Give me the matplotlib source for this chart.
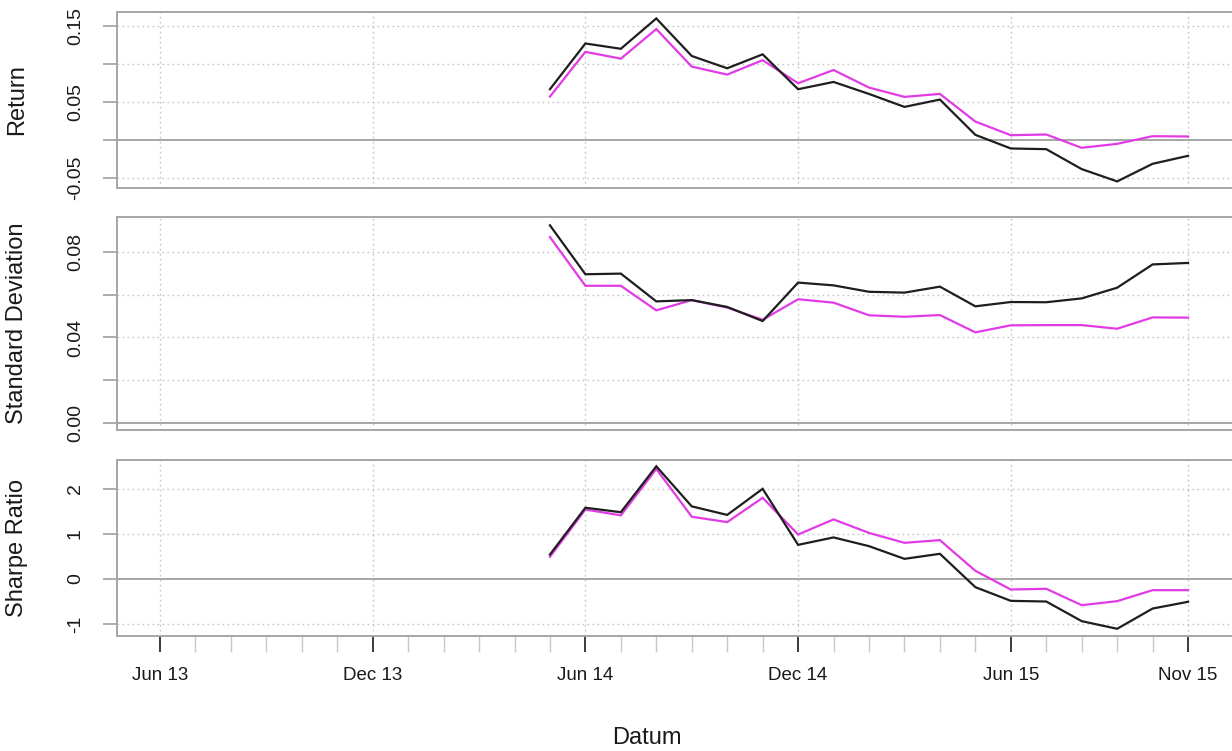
import numpy as np
import pandas as pd
import matplotlib
matplotlib.use("Agg")
import matplotlib.pyplot as plt

plt.rcParams["font.family"] = ["Liberation Sans", "DejaVu Sans"]

# Rolling 12-month window results, monthly
months = pd.period_range("2014-05", "2015-11", freq="M")
axis_start = pd.Period("2013-06", freq="M")
axis_end = pd.Period("2015-11", freq="M")

major_months = ["2013-06", "2013-12", "2014-06", "2014-12", "2015-06", "2015-11"]
major_labels = ["Jun 13", "Dec 13", "Jun 14", "Dec 14", "Jun 15", "Nov 15"]

portfolio_return = [0.0667, 0.127, 0.120, 0.160, 0.1105, 0.0943, 0.1127, 0.0667,
                    0.0763, 0.0605, 0.0434, 0.0531, 0.0066, -0.0114, -0.0123,
                    -0.0386, -0.0548, -0.0316, -0.0211]
benchmark_return = [0.057, 0.116, 0.107, 0.146, 0.0965, 0.086, 0.105, 0.0746,
                    0.092, 0.0689, 0.0566, 0.0605, 0.0241, 0.0061, 0.007,
                    -0.0105, -0.0053, 0.0048, 0.0044]

portfolio_sd = [0.0925, 0.0696, 0.0699, 0.0569, 0.0575, 0.0543, 0.0477, 0.0657,
                0.0644, 0.0614, 0.0610, 0.0638, 0.0546, 0.0566, 0.0565, 0.0583,
                0.0633, 0.0742, 0.0749]
benchmark_sd = [0.0870, 0.0642, 0.0642, 0.0527, 0.0575, 0.0540, 0.0483, 0.0579,
                0.0563, 0.0504, 0.0497, 0.0505, 0.0424, 0.0457, 0.0458, 0.0458,
                0.0441, 0.0494, 0.0493]

portfolio_sharpe = [0.54, 1.58, 1.48, 2.50, 1.61, 1.42, 2.00, 0.755, 0.92, 0.726,
                    0.444, 0.556, -0.185, -0.489, -0.504, -0.94, -1.11, -0.66, -0.51]
benchmark_sharpe = [0.49, 1.54, 1.41, 2.44, 1.38, 1.26, 1.80, 0.985, 1.32, 1.02,
                    0.80, 0.86, 0.178, -0.237, -0.222, -0.585, -0.496, -0.252, -0.252]

ylabels = ["Return", "Standard Deviation", "Sharpe Ratio"]

x = np.array([(m - axis_start).n for m in months])
n_axis = (axis_end - axis_start).n
all_minor = np.arange(0, n_axis + 1)
major_x = [(pd.Period(m, freq="M") - axis_start).n for m in major_months]

W, H = 1232, 751
fig = plt.figure(figsize=(W / 100, H / 100), dpi=100)
fig.patch.set_facecolor("white")

FRAME = "#a6a6a6"
GRID = "#c4c4c4"
BLACK = "#1e1e1e"
MAGENTA = "#e23be6"
TEXT = "#1a1a1a"

left_px, right_px = 117, 1236
month_px = 35.45
x0_px = 160
xlim = ((left_px - x0_px) / month_px, (right_px - x0_px) / month_px)

panels = [
    # (top_px, bottom_px, ylim, ticks, labelled ticks, series)
    (12, 188, (-0.0635, 0.1685), [-0.05, 0.0, 0.05, 0.10, 0.15],
     {-0.05: "-0.05", 0.05: "0.05", 0.15: "0.15"},
     (portfolio_return, benchmark_return)),
    (217, 430, (-0.0033, 0.0964), [0.0, 0.02, 0.04, 0.06, 0.08],
     {0.0: "0.00", 0.04: "0.04", 0.08: "0.08"},
     (portfolio_sd, benchmark_sd)),
    (460, 636, (-1.27, 2.64), [-1, 0, 1, 2],
     {-1: "-1", 0: "0", 1: "1", 2: "2"},
     (portfolio_sharpe, benchmark_sharpe)),
]

axes = []
for i, (top, bot, ylim, ticks, labelled, (s1, s2)) in enumerate(panels):
    ax = fig.add_axes([left_px / W, 1 - bot / H, (right_px - left_px) / W, (bot - top) / H])
    axes.append(ax)
    ax.set_xlim(*xlim)
    ax.set_ylim(*ylim)
    for sp in ax.spines.values():
        sp.set_color(FRAME)
        sp.set_linewidth(1.4)
    # grid
    for t in ticks:
        if t == 0:
            ax.axhline(0, color=FRAME, lw=1.4, zorder=1)
        else:
            ax.axhline(t, color=GRID, lw=1.0, ls=(0, (1.2, 2.4)), zorder=1)
    for mx in major_x:
        ax.axvline(mx, color=GRID, lw=1.0, ls=(0, (1.2, 2.4)), zorder=1)
    ax.plot(x, s2, color=MAGENTA, lw=1.6, zorder=3, solid_joinstyle="miter")
    ax.plot(x, s1, color=BLACK, lw=1.6, zorder=4, solid_joinstyle="miter")

    ax.set_yticks(ticks)
    ax.set_yticklabels([labelled.get(t, "") for t in ticks])
    ax.tick_params(axis="y", direction="out", length=10, width=1.3, color=FRAME,
                   pad=20, labelsize=14, labelcolor=TEXT)
    for lab in ax.get_yticklabels():
        lab.set_rotation(90)
        lab.set_va("center")
        lab.set_ha("center")

    fig.text(17 / W, 1 - (top + bot) / 2 / H, ylabels[i], rotation=90,
             ha="center", va="center", fontsize=17, color=TEXT)

    if i < 2:
        ax.set_xticks([])
    else:
        ax.set_xticks(major_x)
        ax.set_xticklabels(major_labels)
        ax.set_xticks(all_minor, minor=True)
        ax.tick_params(axis="x", which="major", direction="out", length=11.5,
                       width=1.2, color=TEXT, pad=11, labelsize=13.5,
                       labelcolor=TEXT)
        ax.tick_params(axis="x", which="minor", direction="out", length=11.5,
                       width=1.0, color="#c8c8c8")

fig.text(647 / W, 1 - 738 / H, "Datum", ha="center",
         va="center", fontsize=17, color=TEXT)

fig.savefig("out.png", dpi=100, facecolor="white")
